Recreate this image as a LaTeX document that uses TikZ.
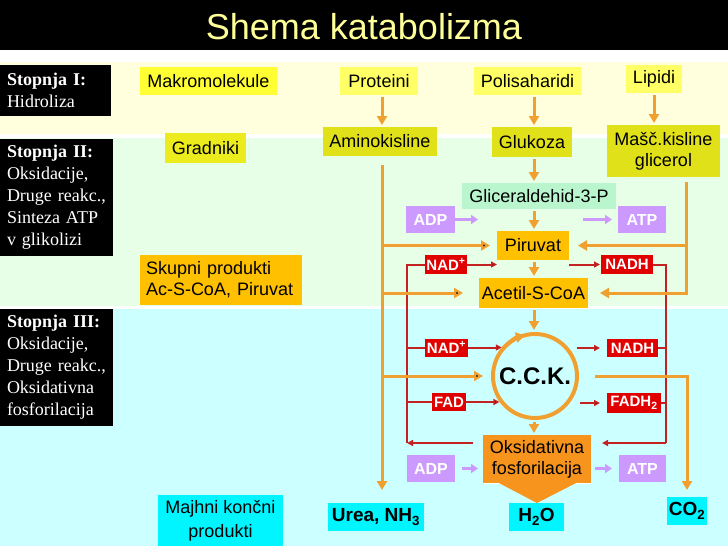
\documentclass[tikz,border=0pt]{standalone}
\usepackage{fontspec}
\setmainfont{Liberation Sans}
\newfontfamily\stagefont{Liberation Serif}
\usetikzlibrary{arrows.meta}

\definecolor{titleY}{HTML}{FFFF99}
\definecolor{bandY}{HTML}{FFFFDD}
\definecolor{bandG}{HTML}{E6FFE6}
\definecolor{bandC}{HTML}{CCFFFF}
\definecolor{makroY}{HTML}{FFFF33}
\definecolor{topY}{HTML}{FFFF66}
\definecolor{gradY}{HTML}{EBEB1E}
\definecolor{oliveY}{HTML}{E1E119}
\definecolor{glicG}{HTML}{B9F5CD}
\definecolor{piruvO}{HTML}{FFC000}
\definecolor{oksO}{HTML}{F7941D}
\definecolor{lilaP}{HTML}{CC99FF}
\definecolor{nadR}{HTML}{E00000}
\definecolor{redLine}{HTML}{C42222}
\definecolor{orLine}{HTML}{F0A030}
\definecolor{endC}{HTML}{00F5FF}

\begin{document}
\begin{tikzpicture}[x=1pt, y=-1pt,
    every node/.style={rectangle, inner sep=0pt, outer sep=0pt, align=center, font=\fontsize{18}{21}\selectfont},
    wh/.style 2 args={minimum width=#1pt, minimum height=#2pt},
    stage/.style={fill=black, text=white, align=left, inner xsep=7pt, font=\stagefont\fontsize{18}{22}\selectfont},
    rbox/.style={fill=nadR, text=white, font=\bfseries\fontsize{15}{15}\selectfont},
    pbox/.style={fill=lilaP, text=white, font=\bfseries\fontsize{16}{16}\selectfont},
    ebox/.style={fill=endC, font=\bfseries\fontsize{19}{21}\selectfont},
    cycle node/.style={circle, draw=orLine, line width=4pt, minimum size=84pt, outer sep=2pt, font=\bfseries\fontsize{24}{28}\selectfont},
    tipO/.style={-{Triangle[length=9pt, width=10pt]}},
    tipR/.style={-{Triangle[length=6pt, width=6pt]}},
    oline/.style={draw=orLine, line width=3pt},
    oarrow/.style={oline, tipO},
    rline/.style={draw=redLine, line width=2pt},
    rarrow/.style={rline, tipR},
    parrow/.style={draw=lilaP, line width=3pt, -{Triangle[length=7pt, width=9pt]}}]

    \useasboundingbox (0,0) rectangle (728,546);
    \fill[white] (0,0) rectangle (728,546);
    \fill[black] (0,0) rectangle (728,50);
    \fill[bandY] (0,62) rectangle (728,134);
    \fill[bandG] (0,138) rectangle (728,306);
    \fill[bandC] (0,309) rectangle (728,546);

    \node[text=titleY, font=\fontsize{36}{40}\selectfont] (title) at (364,27) {Shema katabolizma};

    % stopnje
    \node[stage, text width=97pt, minimum height=51pt] (st1) at (55.5,90.5) {\textbf{Stopnja I:}\\Hidroliza};
    \node[stage, text width=99pt, minimum height=117pt] (st2) at (56.5,197.5) {\textbf{Stopnja II:}\\Oksidacije,\\Druge reakc.,\\Sinteza ATP\\v glikolizi};
    \node[stage, text width=99pt, minimum height=117pt] (st3) at (56.5,367.5) {\textbf{Stopnja III:}\\Oksidacije,\\Druge reakc.,\\Oksidativna\\fosforilacija};

    % snovi
    \node[wh={137}{28}, fill=makroY] (makro) at (208.5,81) {Makromolekule};
    \node[wh={78}{28}, fill=topY] (prot) at (379,81) {Proteini};
    \node[wh={107}{28}, fill=topY] (polis) at (527.5,81) {Polisaharidi};
    \node[wh={56}{28}, fill=topY] (lipidi) at (654,79) {Lipidi};

    \node[wh={81}{30}, fill=gradY] (gradniki) at (205.5,148) {Gradniki};
    \node[wh={114}{29}, fill=oliveY] (amino) at (380,141.5) {Aminokisline};
    \node[wh={80}{30}, fill=oliveY] (glukoza) at (532,142) {Glukoza};
    \node[wh={113}{52}, fill=oliveY] (masc) at (663.5,151) {Mašč.kisline\\glicerol};

    \node[wh={154}{26}, fill=glicG] (glicer) at (539,196) {Gliceraldehid-3-P};
    \node[wh={72}{29}, fill=piruvO] (piruvat) at (533,245.5) {Piruvat};
    \node[wh={109}{30}, fill=piruvO] (acetil) at (533.5,293) {Acetil-S-CoA};
    \node[wh={162}{50}, fill=piruvO, align=left, text width=150pt, inner xsep=6pt] (skupni) at (221,280) {Skupni produkti\\Ac-S-CoA, Piruvat};

    \node[cycle node] (cck) at (535,376) {C.C.K.};
    \node[wh={108}{48}, fill=oksO] (oks) at (537,459) {Oksidativna\\fosforilacija};

    \node[pbox, wh={49}{27}] (adp1) at (430.5,219.5) {ADP};
    \node[pbox, wh={48}{27}] (atp1) at (642,219.5) {ATP};
    \node[pbox, wh={48}{27}] (adp2) at (431,468.5) {ADP};
    \node[pbox, wh={47}{27}] (atp2) at (642.5,468.5) {ATP};

    \node[rbox, wh={42}{19}] (nad1) at (446,264.5) {NAD\textsuperscript{+}};
    \node[rbox, wh={52}{19}] (nadh1) at (627,264.5) {NADH};
    \node[rbox, wh={43}{18}] (nad2) at (446.5,347.5) {NAD\textsuperscript{+}};
    \node[rbox, wh={51}{18}] (nadh2) at (632.5,348) {NADH};
    \node[rbox, wh={34}{18}] (fad) at (449,402) {FAD};
    \node[rbox, wh={54}{20}] (fadh2) at (634,403) {FADH\textsubscript{2}};

    \node[ebox, wh={125}{51}, font=\fontsize{18}{24}\selectfont] (majhni) at (220.5,520.5) {Majhni končni\\produkti};
    \node[ebox, wh={96}{28}] (urea) at (376,517) {Urea, NH\textsubscript{3}};
    \node[ebox, wh={55}{28}] (h2o) at (536.5,517) {H\textsubscript{2}O};
    \node[ebox, wh={40}{28}] (co2) at (687,511) {CO\textsubscript{2}};

    % puscica pod oksidativno fosforilacijo
    \draw[white, line width=1pt] (oks.south west) -- (oks.south east);
    \fill[oksO] ([xshift=14pt, yshift=1pt]oks.south west) -- ([xshift=-13pt, yshift=1pt]oks.south east) -- ([yshift=-20pt]oks.south) -- cycle;

    \coordinate (c_mid) at (534,0);
    \coordinate (c_amino) at (382,0);
    \coordinate (c_lipid) at (686,0);
    \coordinate (c_lred) at (407,0);
    \coordinate (c_rred) at (666,0);
    \coordinate (c_back) at (0,443);

    % NAD+ / NADH
    \draw[rline] (nad1.west) -| (c_lred |- c_back);
    \draw[rline] (c_lred |- nad2) -- (nad2.west)  (c_lred |- fad) -- (fad.west);
    \draw[rarrow, shorten <=10pt] (oks.west |- c_back) -- (c_lred |- c_back);
    \draw[rline] (nadh1.east) -| (c_rred |- c_back);
    \draw[rline] (nadh2.east) -- (nadh2.east -| c_rred)  (fadh2.east) -- (fadh2.east -| c_rred);
    \draw[rarrow, shorten >=11pt] (c_rred |- c_back) -- (oks.east |- c_back);

    \draw[rline] (nad1.east) edge[tipR] (nad1.east -| piruvat.west)
        (nad2.east) edge[tipR] (nad2.east -| cck.139)
        (fad.east) edge[tipR] (fad.east -| cck.216);
    \draw[rarrow, shorten >=1pt] (nad1.east -| piruvat.east) -- (nadh1.west);
    \draw[rline, shorten <=9pt, shorten >=7pt] (cck.41 |- nadh2) edge[tipR] (nadh2.west)
        (cck.324 |- fadh2) edge[tipR] (fadh2.west);

    % ADP / ATP
    \draw[parrow, shorten >=19pt] (adp1.east) -- (adp1.east -| piruvat.west);
    \draw[parrow, shorten <=14pt, shorten >=6pt] (atp1.west -| piruvat.east) -- (atp1.west);
    \draw[parrow, shorten <=7pt, shorten >=5pt] (adp2.east) -- (adp2.east -| oks.west);
    \draw[parrow, shorten <=4pt, shorten >=7pt] (oks.east |- atp2) -- (atp2.west);

    % glavni tok
    \draw[oline, shorten <=2pt, shorten >=2pt]
        (prot.south -| c_amino) edge[oarrow] (amino.north -| c_amino)
        (polis.south -| c_mid) edge[oarrow] (glukoza.north -| c_mid)
        (lipidi.south) edge[oarrow] (lipidi.south |- masc.north)
        (glukoza.south -| c_mid) edge[oarrow] (glicer.north -| c_mid)
        (glicer.south -| c_mid) edge[oarrow] (piruvat.north -| c_mid)
        (piruvat.south -| c_mid) edge[oarrow] (acetil.north -| c_mid)
        (acetil.south -| c_mid) edge[oarrow] (cck.north -| c_mid)
        (cck.south -| c_mid) edge[oarrow] (oks.north -| c_mid);

    % aminokisline
    \draw[oarrow, shorten <=9pt, shorten >=13pt] (amino.south -| c_amino) -- (urea.north -| c_amino);
    \draw[oline] (c_amino |- piruvat) edge[tipO, shorten >=7pt] (piruvat.west)
        (c_amino |- acetil) edge[tipO, shorten >=16pt] (acetil.west)
        (c_amino |- cck) edge[tipO, shorten >=8pt] (cck.west);

    % mascobne kisline
    \draw[oarrow, shorten <=5pt, shorten >=12pt] (masc.south -| c_lipid) |- (acetil.east);
    \draw[oarrow, shorten >=9pt] (c_lipid |- piruvat) -- (piruvat.east);

    % C.C.K.
    \draw[oarrow, line width=4pt] ([shift={(140:42pt)}]cck.center) arc[start angle=140, end angle=104, radius=42pt];
    \draw[oarrow, shorten <=16pt, shorten >=7pt] (cck.east) -| (co2.north);
\end{tikzpicture}
\end{document}
